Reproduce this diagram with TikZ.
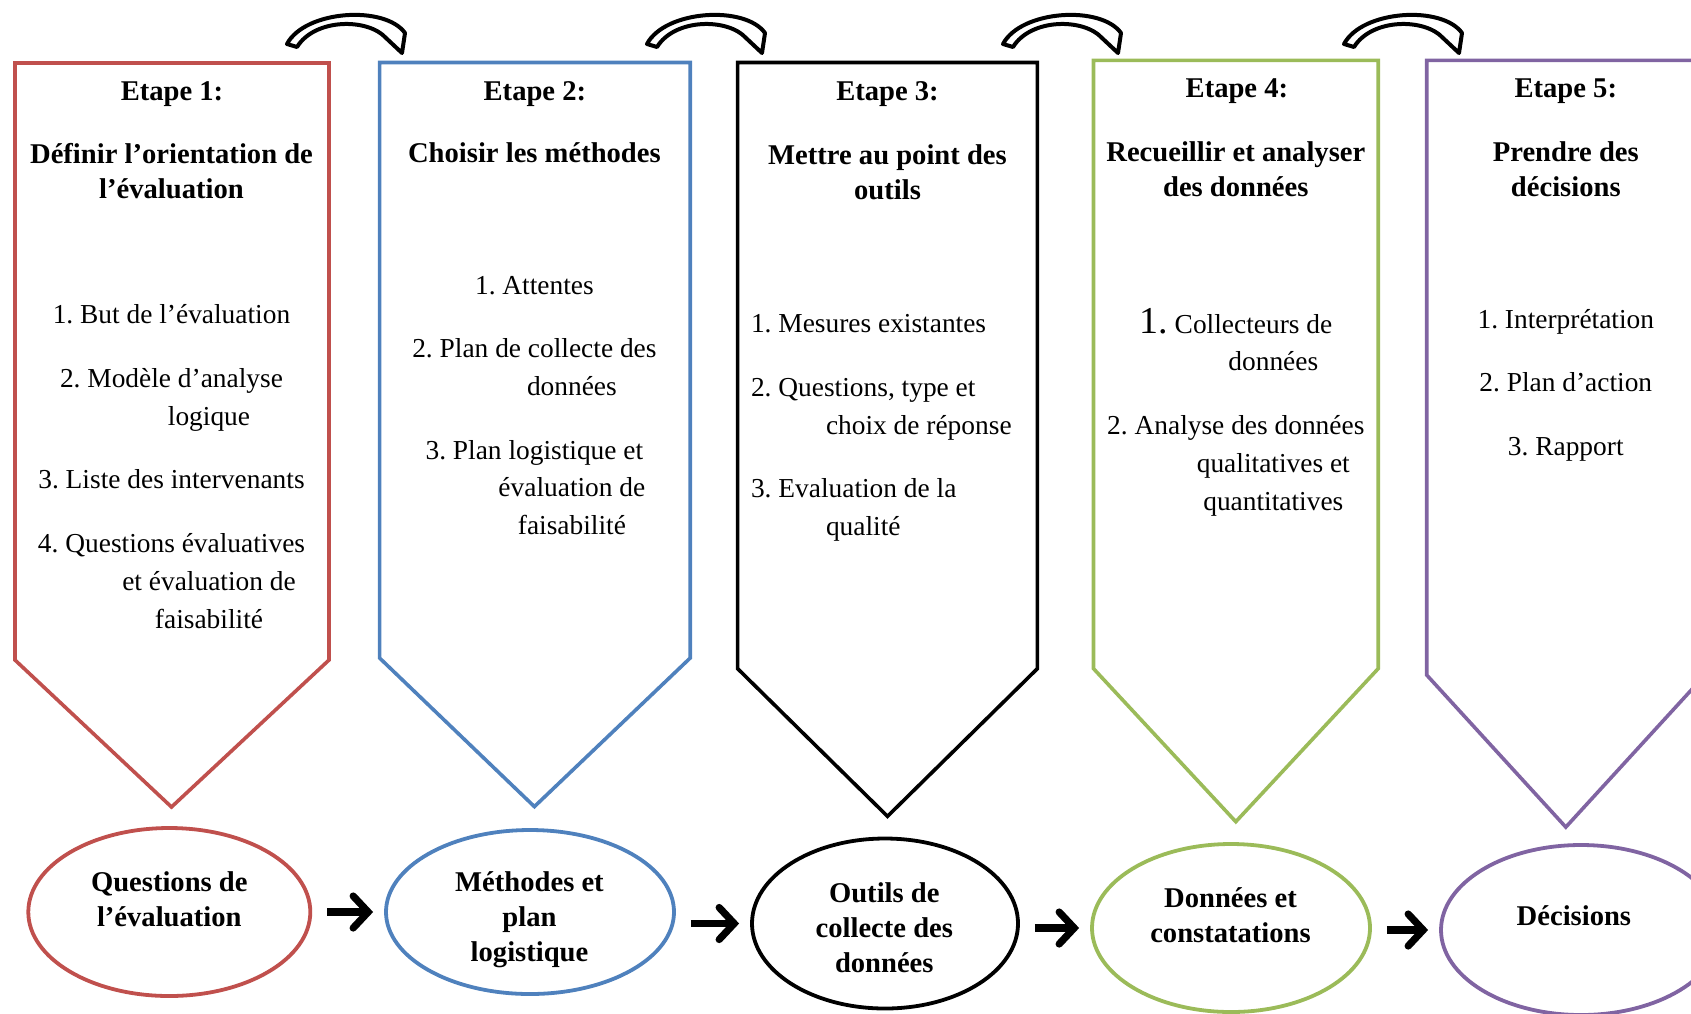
\documentclass[tikz,border=0pt]{standalone}
\usepackage{fontspec}
\setmainfont{Liberation Serif}
\usetikzlibrary{arrows.meta,shapes.geometric}
\definecolor{rouge}{HTML}{C0504D}
\definecolor{bleu}{HTML}{4F81BD}
\definecolor{vert}{HTML}{9BBB59}
\definecolor{violet}{HTML}{8064A2}
\newcommand{\retrait}{\hspace*{37.5pt}}
\frenchspacing

\begin{document}
\begin{tikzpicture}[x=0.5pt,y=-0.5pt]
  \tikzstyle{etape}=[line width=1.8pt,line join=miter]
  \tikzstyle{titre}=[font=\fontsize{14.3}{17.5}\selectfont\bfseries,align=center,inner sep=0pt]
  \tikzstyle{liste}=[font=\fontsize{13.7}{18.9}\selectfont,align=center,inner sep=0pt]
  \tikzstyle{bulle}=[ellipse,line width=1.9pt,inner sep=0pt]
  \tikzstyle{fleche}=[line width=3.6pt,-{Straight Barb[length=7.5pt,width=16pt,line cap=round]},shorten <=7.5pt,shorten >=5.5pt]
  \tikzstyle{courbe}=[line width=2pt,line join=round,fill=white]

  \useasboundingbox (0,0) rectangle (1691,1013);

  % les cinq etapes
  \draw[etape,draw=rouge] (15,63) -- (329,63) -- (329,660) -- (171.5,807) -- (15,660) -- cycle;
  \draw[etape,draw=bleu] (379.6,62.5) -- (690.2,62.5) -- (690.2,658) -- (534.4,806.6) -- (379.6,658) -- cycle;
  \draw[etape,draw=black] (737.6,62.5) -- (1037.4,62.5) -- (1037.4,668.6) -- (887.5,816.3) -- (737.6,668.6) -- cycle;
  \draw[etape,draw=vert] (1093.5,60.4) -- (1378.2,60.4) -- (1378.2,668.6) -- (1235.8,821.7) -- (1093.5,668.6) -- cycle;
  \draw[etape,draw=violet] (1426.7,60.4) -- (1705,60.4) -- (1705,675) -- (1565.8,827.1) -- (1426.7,675) -- cycle;

  % fleches courbes du haut
  \foreach \dx in {0,360,716,1057}
    \draw[courbe,shift={(\dx,0)}] (287,44) .. controls (305,10) and (385,5) .. (405,33)
      -- (402,53) -- (386,38) .. controls (368,18) and (315,18) .. (297,47) -- cycle;

  \node[titre] (E_1) at (172,94) {Etape 1:};
  \node[titre] (E_2) at (534.9,94) {Etape 2:};
  \node[titre] (E_3) at (887.5,94) {Etape 3:};
  \node[titre] (E_4) at (1236.9,91) {Etape 4:};
  \node[titre] (E_5) at (1565.8,91) {Etape 5:};

  \node[titre] (T_1) at (171.5,171.5) {Définir l’orientation de\\l’évaluation};
  \node[titre] (T_2) at (534.4,153) {Choisir les méthodes};
  \node[titre] (T_3) at (887.5,172) {Mettre au point des\\outils};
  \node[titre] (T_4) at (1235.8,169) {Recueillir et analyser\\des données};
  \node[titre] (T_5) at (1565.8,169) {Prendre des\\décisions};

  \node[liste] (L_1) at (171.5,466.5) {1. But de l’évaluation\\[12.9pt]2. Modèle d’analyse\\\retrait logique\\[12.9pt]3. Liste des intervenants\\[12.9pt]4. Questions évaluatives\\\retrait et évaluation de\\\retrait faisabilité};
  \node[liste] (L_2) at (534.4,405.5) {1. Attentes\\[12.9pt]2. Plan de collecte des\\\retrait données\\[12.9pt]3. Plan logistique et\\\retrait évaluation de\\\retrait faisabilité};
  \node[liste,align=left,anchor=west] (L_3) at (750.6,428) {1. Mesures existantes\\[12.9pt]2. Questions, type et\\\retrait choix de réponse\\[12.9pt]3. Evaluation de la\\\retrait qualité};
  \node[liste] (L_4) at (1235.8,412) {{\fontsize{19}{18.9}\selectfont 1.} Collecteurs de\\\retrait données\\[12.9pt]2. Analyse des données\\\retrait qualitatives et\\\retrait quantitatives};
  \node[liste] (L_5) at (1565.8,385) {1. Interprétation\\[12.9pt]2. Plan d’action\\[12.9pt]3. Rapport};

  % les resultats
  \node[bulle,draw=rouge,minimum width=141pt,minimum height=84pt] (O_1) at (169.3,912) {};
  \node[bulle,draw=bleu,minimum width=144pt,minimum height=82pt] (O_2) at (530,912) {};
  \node[bulle,draw=black,minimum width=133pt,minimum height=85pt] (O_3) at (885,923.5) {};
  \node[bulle,draw=vert,minimum width=139pt,minimum height=84pt] (O_4) at (1231,928) {};
  \node[bulle,draw=violet,minimum width=140pt,minimum height=85pt] (O_5) at (1581,930) {};

  \node[titre] (B_1) at (169.3,899.5) {Questions de\\l’évaluation};
  \node[titre] (B_2) at (529.5,920) {Méthodes et\\plan\\logistique};
  \node[titre] (B_3) at (884.3,928) {Outils de\\collecte des\\données};
  \node[titre] (B_4) at (1230.5,915.5) {Données et\\constatations};
  \node[titre] (B_5) at (1573.9,916) {Décisions};

  \draw[fleche] (O_1.east |- O_2.west) -- (O_2.west);
  \draw[fleche] (O_2.east |- O_3.west) -- (O_3.west);
  \draw[fleche] (O_3.east |- O_4.west) -- (O_4.west);
  \draw[fleche] (O_4.east |- O_5.west) -- (O_5.west);
\end{tikzpicture}
\end{document}
